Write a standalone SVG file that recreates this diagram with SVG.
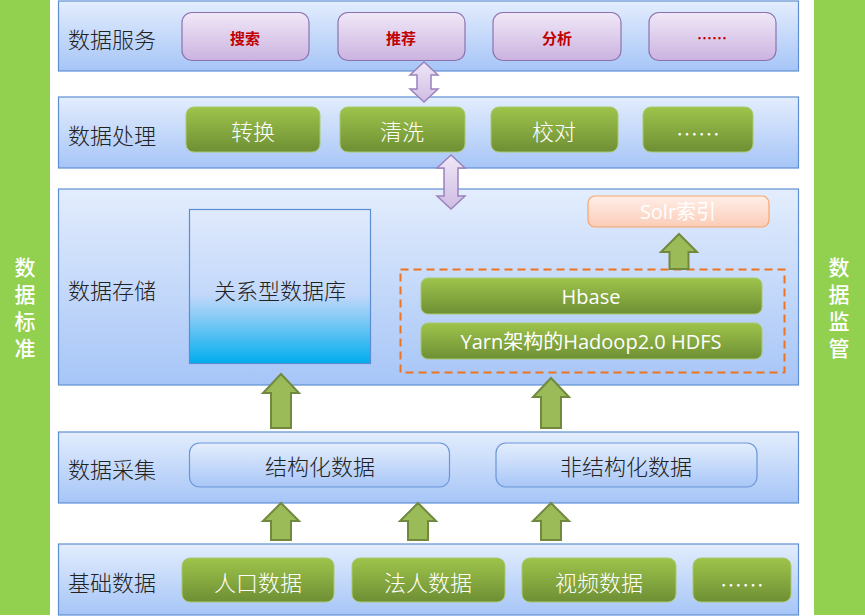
<svg xmlns="http://www.w3.org/2000/svg" width="865" height="616" viewBox="0 0 865 616">
<defs>
<linearGradient id="gLayer" x1="0" y1="0" x2="0" y2="1"><stop offset="0" stop-color="#E3EDFD"/><stop offset="1" stop-color="#A6C5F7"/></linearGradient>
<linearGradient id="gPurple" x1="0" y1="0" x2="0" y2="1"><stop offset="0" stop-color="#F0E8F7"/><stop offset="1" stop-color="#CBB3DF"/></linearGradient>
<linearGradient id="gGreen" x1="0" y1="0" x2="0" y2="1"><stop offset="0" stop-color="#9EC44B"/><stop offset="1" stop-color="#6E8F34"/></linearGradient>
<linearGradient id="gDb" x1="0" y1="0" x2="0" y2="1"><stop offset="0" stop-color="#E0EAFD"/><stop offset="0.55" stop-color="#C3D8FA"/><stop offset="0.68" stop-color="#8FCDF6"/><stop offset="1" stop-color="#00ADEF"/></linearGradient>
<linearGradient id="gSolr" x1="0" y1="0" x2="0" y2="1"><stop offset="0" stop-color="#FFEEE7"/><stop offset="1" stop-color="#FBCCB8"/></linearGradient>
<linearGradient id="gBlue" x1="0" y1="0" x2="0" y2="1"><stop offset="0" stop-color="#E4EEFD"/><stop offset="1" stop-color="#A8C6F7"/></linearGradient>
<linearGradient id="gDbl" x1="0" y1="0" x2="0" y2="1"><stop offset="0" stop-color="#EFE7F7"/><stop offset="1" stop-color="#D0BCE3"/></linearGradient>
</defs>
<style>
.side{fill:#92D050}
.sideT{font-family:"Noto Sans CJK SC",sans-serif;font-size:21px;fill:#fff;writing-mode:vertical-rl;letter-spacing:6px;font-weight:500}
.layer{fill:url(#gLayer);stroke:#5F8FD3;stroke-width:1.2}
.lbl{font-family:"Noto Sans CJK SC",sans-serif;font-size:22px;fill:#222;dominant-baseline:central;font-weight:300}
.pbtn{fill:url(#gPurple);stroke:#8C72B0;stroke-width:1.2}
.ptxt{font-family:"Noto Sans CJK SC",sans-serif;font-size:15px;fill:#C00000;font-weight:700;text-anchor:middle;dominant-baseline:central}
.gbtn{fill:url(#gGreen);stroke:#A9C96E;stroke-width:1}
.gtxt{font-family:"Noto Sans CJK SC",sans-serif;font-size:22px;fill:#fff;text-anchor:middle;dominant-baseline:central;font-weight:300}
.etxt{font-family:"Open Sans","Noto Sans CJK SC",sans-serif;font-size:20px;fill:#fff;text-anchor:middle;dominant-baseline:central}
.bbtn{fill:url(#gBlue);stroke:#6A96D7;stroke-width:1.2}
.btxt{font-family:"Noto Sans CJK SC",sans-serif;font-size:22px;fill:#222;text-anchor:middle;dominant-baseline:central;font-weight:300}
.up{fill:#9BBB59;stroke:#71893F;stroke-width:2;stroke-linejoin:miter}
.dbl{fill:url(#gDbl);stroke:#9A83BD;stroke-width:1.5}
</style>

<g id="side-left"><rect class="side" x="0" y="0" width="50" height="615"/>
<text class="sideT" x="25" y="257">数据标准</text></g>
<g id="side-right"><rect class="side" x="814" y="0" width="51" height="615"/>
<text class="sideT" x="839" y="257">数据监管</text></g>

<g id="layer-service"><rect class="layer" x="58.5" y="1" width="740" height="70"/>
<text class="lbl" x="68" y="38">数据服务</text></g>
<g id="svc-search"><rect class="pbtn" x="182" y="12.5" width="127" height="48" rx="10"/><text class="ptxt" x="245" y="37">搜索</text></g>
<g id="svc-recommend"><rect class="pbtn" x="338" y="12.5" width="127" height="48" rx="10"/><text class="ptxt" x="401" y="37">推荐</text></g>
<g id="svc-analysis"><rect class="pbtn" x="493" y="12.5" width="128" height="48" rx="10"/><text class="ptxt" x="557" y="37">分析</text></g>
<g id="svc-more"><rect class="pbtn" x="649" y="12.5" width="127" height="48" rx="10"/><text class="ptxt" x="712" y="37">……</text></g>

<g id="layer-process"><rect class="layer" x="58.5" y="97" width="740" height="71"/>
<text class="lbl" x="68" y="134">数据处理</text></g>
<g id="proc-convert"><rect class="gbtn" x="186" y="107" width="134" height="45" rx="8"/><text class="gtxt" x="253" y="130">转换</text></g>
<g id="proc-clean"><rect class="gbtn" x="340" y="107" width="125" height="45" rx="8"/><text class="gtxt" x="402" y="130">清洗</text></g>
<g id="proc-check"><rect class="gbtn" x="491" y="107" width="127" height="45" rx="8"/><text class="gtxt" x="554" y="130">校对</text></g>
<g id="proc-more"><rect class="gbtn" x="643" y="107" width="110" height="45" rx="8"/><text class="gtxt" x="698" y="132" font-size="16">……</text></g>

<g id="layer-storage"><rect class="layer" x="58.5" y="189" width="740" height="196"/>
<text class="lbl" x="68" y="289">数据存储</text></g>
<g id="rdb"><rect x="189.5" y="209.5" width="181" height="154" fill="url(#gDb)" stroke="#5B8DD0" stroke-width="1.2"/>
<text class="btxt" x="280" y="289">关系型数据库</text></g>
<g id="solr"><rect x="588" y="196" width="181" height="31" rx="7" fill="url(#gSolr)" stroke="#F7A56D" stroke-width="1.2"/>
<text class="etxt" x="678" y="211">Solr索引</text></g>
<g id="hadoop-group"><rect x="400.5" y="269.5" width="384" height="103" fill="none" stroke="#F0731F" stroke-width="2" stroke-dasharray="8,5"/></g>
<g id="hbase"><rect class="gbtn" x="421" y="278" width="341" height="36" rx="7"/><text class="etxt" x="591" y="296" font-size="19.5">Hbase</text></g>
<g id="hdfs"><rect class="gbtn" x="421" y="323" width="341" height="36" rx="7"/><text class="etxt" x="591" y="341">Yarn架构的Hadoop2.0 HDFS</text></g>

<g id="layer-collect"><rect class="layer" x="58.5" y="432" width="740" height="71"/>
<text class="lbl" x="68" y="468">数据采集</text></g>
<g id="structured"><rect class="bbtn" x="189.5" y="443" width="260" height="44" rx="10"/><text class="btxt" x="320" y="465">结构化数据</text></g>
<g id="unstructured"><rect class="bbtn" x="496" y="443" width="261" height="44" rx="10"/><text class="btxt" x="626" y="465">非结构化数据</text></g>

<g id="layer-base"><rect class="layer" x="58.5" y="544" width="740" height="71"/>
<text class="lbl" x="68" y="581">基础数据</text></g>
<g id="base-pop"><rect class="gbtn" x="182" y="558" width="152" height="44" rx="8"/><text class="gtxt" x="258" y="581">人口数据</text></g>
<g id="base-legal"><rect class="gbtn" x="352" y="558" width="153" height="44" rx="8"/><text class="gtxt" x="428" y="581">法人数据</text></g>
<g id="base-video"><rect class="gbtn" x="522" y="558" width="154" height="44" rx="8"/><text class="gtxt" x="599" y="581">视频数据</text></g>
<g id="base-more"><rect class="gbtn" x="693" y="558" width="98" height="44" rx="8"/><text class="gtxt" x="742" y="583" font-size="16">……</text></g>

<g id="connectors">
<path class="dbl" d="M424,62 L438,75 L431,75 L431,89 L438,89 L424,102 L410,89 L417,89 L417,75 L410,75 Z"/>
<path class="dbl" d="M451,155 L465,168 L458,168 L458,196 L465,196 L451,209 L437,196 L444,196 L444,168 L437,168 Z"/>
<path class="up" d="M679,234 L697,252 L688.5,252 L688.5,269 L669.5,269 L669.5,252 L661,252 Z"/>
<path class="up" d="M281,374 L299,393 L291,393 L291,428 L271,428 L271,393 L263,393 Z"/>
<path class="up" d="M551,378 L569,397 L561,397 L561,428 L541,428 L541,397 L533,397 Z"/>
<path class="up" d="M281,503 L299,521 L291,521 L291,540 L271,540 L271,521 L263,521 Z"/>
<path class="up" d="M418,503 L436,521 L428,521 L428,540 L408,540 L408,521 L400,521 Z"/>
<path class="up" d="M551,503 L569,521 L561,521 L561,540 L541,540 L541,521 L533,521 Z"/>
</g>
</svg>
